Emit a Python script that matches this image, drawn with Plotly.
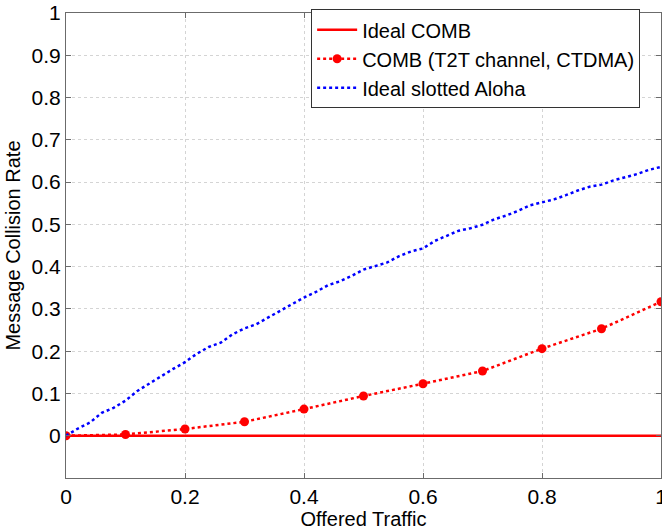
import plotly.graph_objects as go

# Data
ideal_comb_x = [0, 1]
ideal_comb_y = [0, 0]

comb_x = [0, 0.1, 0.2, 0.3, 0.4, 0.5, 0.6, 0.7, 0.8, 0.9, 1.0]
comb_y = [0, 0.003, 0.016, 0.033, 0.063, 0.094, 0.123, 0.153, 0.206, 0.253, 0.317]

aloha_x = [0.00, 0.02, 0.04, 0.06, 0.08, 0.10, 0.12, 0.14, 0.16, 0.18,
           0.20, 0.22, 0.24, 0.26, 0.28, 0.30, 0.32, 0.34, 0.36, 0.38,
           0.40, 0.42, 0.44, 0.46, 0.48, 0.50, 0.52, 0.54, 0.56, 0.58,
           0.60, 0.62, 0.64, 0.66, 0.68, 0.70, 0.72, 0.74, 0.76, 0.78,
           0.80, 0.82, 0.84, 0.86, 0.88, 0.90, 0.92, 0.94, 0.96, 0.98, 1.00]
aloha_y = [0.000, 0.017, 0.031, 0.054, 0.066, 0.083, 0.106, 0.124, 0.140, 0.158,
           0.174, 0.194, 0.210, 0.220, 0.240, 0.254, 0.264, 0.280, 0.297, 0.313,
           0.327, 0.340, 0.356, 0.365, 0.378, 0.393, 0.402, 0.410, 0.425, 0.436,
           0.443, 0.461, 0.473, 0.485, 0.491, 0.499, 0.512, 0.521, 0.532, 0.545,
           0.552, 0.559, 0.569, 0.580, 0.589, 0.594, 0.604, 0.612, 0.619, 0.629, 0.636]

x_ticks = [0, 0.2, 0.4, 0.6, 0.8, 1]
x_ticktext = ["0", "0.2", "0.4", "0.6", "0.8", "1"]
y_ticks = [0, 0.1, 0.2, 0.3, 0.4, 0.5, 0.6, 0.7, 0.8, 0.9, 1]
y_ticktext = ["0", "0.1", "0.2", "0.3", "0.4", "0.5", "0.6", "0.7", "0.8", "0.9", "1"]

FONT = "Liberation Sans, Arial, sans-serif"

fig = go.Figure()
fig.add_trace(go.Scatter(x=ideal_comb_x, y=ideal_comb_y, mode="lines",
                         name="Ideal COMB", line=dict(color="#ff0000", width=2.5)))
fig.add_trace(go.Scatter(x=comb_x, y=comb_y, mode="lines+markers",
                         name="COMB (T2T channel, CTDMA)",
                         line=dict(color="#ff0000", width=2.5, dash="dot"),
                         marker=dict(color="#ff0000", size=9, symbol="circle")))
fig.add_trace(go.Scatter(x=aloha_x, y=aloha_y, mode="lines",
                         name="Ideal slotted Aloha",
                         line=dict(color="#0000ff", width=2.5, dash="dot")))

axis_common = dict(showline=True, linecolor="#6b6b6b", linewidth=1, mirror="ticks",
                   ticks="inside", ticklen=5, tickcolor="#6b6b6b",
                   showgrid=True, gridcolor="#d4d4d4", griddash="dot", gridwidth=1,
                   zeroline=False, ticklabeloverflow="allow", automargin=False,
                   tickfont=dict(family=FONT, size=21, color="#000"))

fig.update_xaxes(range=[0, 1], tickvals=x_ticks, ticktext=x_ticktext,
                 title=dict(text="Offered Traffic", standoff=1,
                            font=dict(family=FONT, size=20, color="#000")),
                 **axis_common)
fig.update_yaxes(range=[-0.1, 1], tickvals=y_ticks, ticktext=y_ticktext,
                 title=dict(text="Message Collision Rate", standoff=5,
                            font=dict(family=FONT, size=20, color="#000")),
                 **axis_common)

fig.update_layout(
    width=662, height=531,
    margin=dict(l=66, r=1, t=13, b=53),
    plot_bgcolor="white", paper_bgcolor="white",
    legend=dict(x=0.412, y=1.008, xanchor="left", yanchor="top",
                bgcolor="white", bordercolor="#333", borderwidth=1,
                font=dict(family=FONT, size=20, color="#000"),
                tracegroupgap=0, itemwidth=40),
    showlegend=True,
)

fig.write_html("out.html")
